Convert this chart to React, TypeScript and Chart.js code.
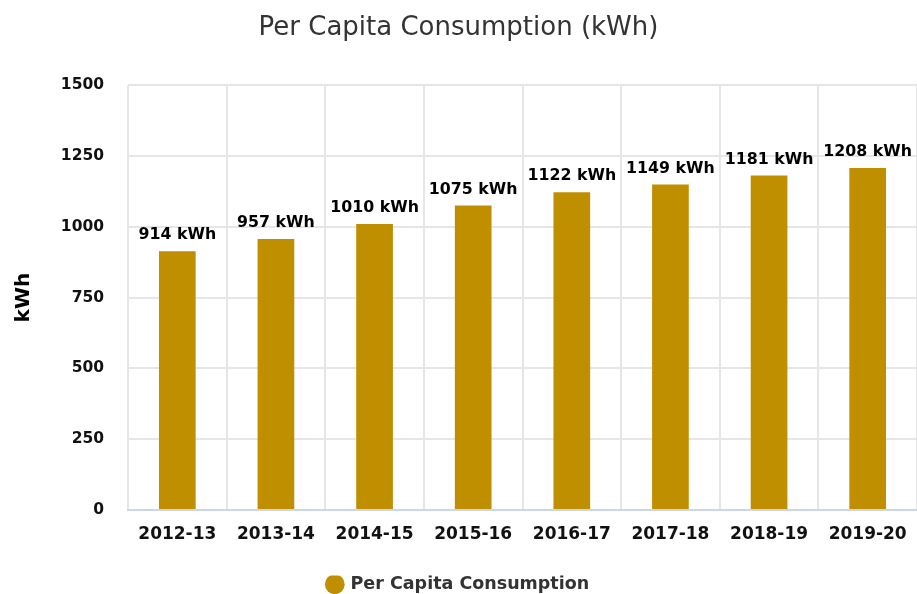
import React, { useEffect, useRef } from "react";
import { Chart, registerables } from "chart.js";

Chart.register(...registerables);

const categories = ["2012-13", "2013-14", "2014-15", "2015-16", "2016-17", "2017-18", "2018-19", "2019-20"];
const consumption = [914, 957, 1010, 1075, 1122, 1149, 1181, 1208];
const yTicks = [0, 250, 500, 750, 1000, 1250, 1500];
const seriesName = "Per Capita Consumption";
const unit = "kWh";

const FONT = "'DejaVu Sans', Verdana, sans-serif";

const dataLabelPlugin = {
  id: "barValueLabels",
  afterDatasetsDraw(chart: any) {
    const { ctx } = chart;
    chart.data.datasets.forEach((ds: any, di: number) => {
      const meta = chart.getDatasetMeta(di);
      if (meta.hidden) return;
      meta.data.forEach((bar: any, i: number) => {
        ctx.save();
        ctx.font = `bold 15.8px ${FONT}`;
        ctx.fillStyle = "#000000";
        ctx.textAlign = "center";
        ctx.textBaseline = "alphabetic";
        ctx.fillText(`${ds.data[i]} ${unit}`, bar.x, bar.y - 12);
        ctx.restore();
      });
    });
  },
};

export default function App() {
  const ref = useRef<HTMLCanvasElement>(null);
  useEffect(() => {
    if (!ref.current) return;
    const chart = new Chart(ref.current, {
      type: "bar",
      data: {
        labels: categories,
        datasets: [
          {
            label: seriesName,
            data: consumption,
            backgroundColor: "#bf8f00",
            borderWidth: 0,
            barPercentage: 0.372,
            categoryPercentage: 1,
          },
        ],
      },
      options: {
        responsive: false,
        animation: false,
        layout: { padding: { left: 0, right: 0, top: 0, bottom: -9 } },
        plugins: {
          title: {
            display: true,
            text: "Per Capita Consumption (kWh)",
            color: "#333333",
            font: { family: FONT, size: 26, weight: "normal" },
            padding: { top: 13, bottom: 41 },
          },
          legend: {
            display: true,
            position: "bottom",
            labels: {
              usePointStyle: true,
              pointStyle: "circle",
              boxWidth: 14,
              boxHeight: 14,
              color: "#333333",
              font: { family: FONT, size: 17.5, weight: "bold" },
              padding: 0,
            },
          },
          tooltip: { enabled: false },
        },
        scales: {
          x: {
            afterFit(scale: any) {
              scale.height = 65.5;
              scale.paddingLeft = 0;
              scale.paddingRight = 0;
            },
            grid: {
              color: "#e6e6e6",
              lineWidth: 2,
              drawTicks: false,
              offset: true,
            },
            border: { display: true, color: "#ccd6eb", width: 2 },
            ticks: {
              color: "#111111",
              font: { family: FONT, size: 17, weight: "bold" },
              padding: 14,
              maxRotation: 0,
              autoSkip: false,
            },
          },
          y: {
            min: 0,
            max: 1500,
            afterBuildTicks(scale: any) {
              scale.ticks = yTicks.map((v) => ({ value: v }));
            },
            afterFit(scale: any) {
              scale.width = 128;
            },
            grid: { color: "#e6e6e6", lineWidth: 2, drawTicks: false },
            border: { display: false },
            title: {
              display: true,
              text: unit,
              color: "#000000",
              font: { family: FONT, size: 20, weight: "bold" },
              padding: { top: 12, bottom: 0 },
            },
            ticks: {
              color: "#111111",
              font: { family: FONT, size: 15.5, weight: "bold" },
              padding: 24,
              callback: (v: any) => String(v),
            },
          },
        },
      },
      plugins: [dataLabelPlugin],
    });
    return () => chart.destroy();
  }, []);
  return (
    <canvas
      ref={ref}
      width={917}
      height={594}
      style={{ position: "absolute", left: 0, top: 0, width: 917, height: 594, display: "block" }}
    />
  );
}
